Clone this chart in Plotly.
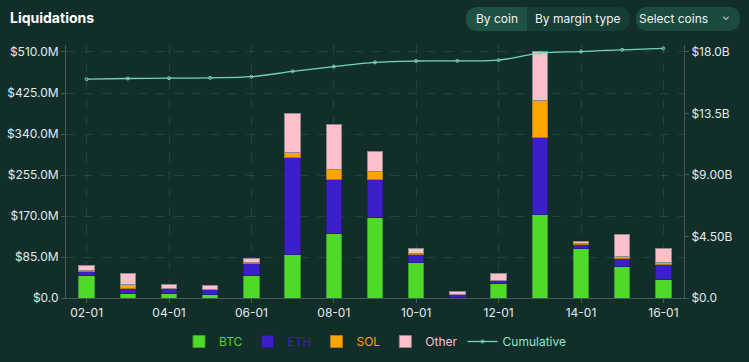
import plotly.graph_objects as go

# ---------------- data ----------------
dates = ["02-01", "03-01", "04-01", "05-01", "06-01", "07-01", "08-01", "09-01",
         "10-01", "11-01", "12-01", "13-01", "14-01", "15-01", "16-01"]
btc = [46, 9, 10, 7, 47, 90, 133, 167, 74, 1, 31, 173.5, 101.6, 66, 39]          # $M
eth = [9, 10, 9, 10, 25, 202, 112, 78, 16, 5.5, 5, 160, 10, 15, 31]              # $M
sol = [1, 10, 1, 0.5, 2, 9, 21.5, 17, 2, 0.3, 1, 76.7, 0.5, 5, 4]                 # $M
other = [11, 22, 7.6, 9, 8, 82, 92.5, 41, 11, 7.5, 13, 100, 5.6, 45, 27.6]        # $M
cumulative = [16.01, 16.06, 16.08, 16.11, 16.19, 16.58, 16.93, 17.24,
              17.34, 17.35, 17.40, 17.91, 18.03, 18.16, 18.26]                    # $B

x_tickvals = ["02-01", "04-01", "06-01", "08-01", "10-01", "12-01", "14-01", "16-01"]
left_tickvals = [0, 85, 170, 255, 340, 425, 510]
left_ticktext = ["$0.0", "$85.0M", "$170.0M", "$255.0M", "$340.0M", "$425.0M", "$510.0M"]
right_tickvals = [0, 4.5, 9, 13.5, 18]
right_ticktext = ["$0.0", "$4.50B", "$9.00B", "$13.5B", "$18.0B"]

# ---------------- style ----------------
W, H = 749, 362
L, R, T, B = 66, 65, 45, 64
BG = "#112e2a"
C_BTC, C_ETH, C_SOL, C_OTH, C_CUM = "#4fd929", "#3c1fc8", "#ffa500", "#ffc0cb", "#74d6b6"
GRID = "rgba(255,255,255,0.09)"
AXIS = "#4b5a56"
TXT = "#e4ebea"
FONT = "Inter"

fig = go.Figure()

def lbl(name, color):
    return f"<span style='color:{color}'>{name}</span>"

for vals, name, col, edge in [(btc, "BTC", C_BTC, "#3a9e22"),
                              (eth, "ETH", C_ETH, "#2d1a8a"),
                              (sol, "SOL", C_SOL, "#b7790a"),
                              (other, "Other", C_OTH, "#8c8a8a")]:
    fig.add_trace(go.Bar(x=dates, y=vals, name=lbl(name, col), marker_color=col,
                         marker_line=dict(color=edge, width=1), width=0.37))

fig.add_trace(go.Scatter(x=dates, y=cumulative, yaxis="y2", name=lbl("Cumulative", "#8fe6cf"),
                         mode="lines+markers", line=dict(color=C_CUM, width=1.3, shape="spline"),
                         marker=dict(symbol="circle-open", size=3, color=C_CUM)))

def px2x(px):
    return (px - L) / (W - L - R)

def px2y(py):
    return (H - B - py) / (H - T - B)

def rpath(x0, y0, x1, y1, r, left=True, right=True):
    P = lambda x, y: f"{px2x(x):.5f},{px2y(y):.5f}"
    rl = r if left else 0
    rr = r if right else 0
    return (f"M {P(x0 + rl, y0)} L {P(x1 - rr, y0)} Q {P(x1, y0)} {P(x1, y0 + rr)} "
            f"L {P(x1, y1 - rr)} Q {P(x1, y1)} {P(x1 - rr, y1)} L {P(x0 + rl, y1)} "
            f"Q {P(x0, y1)} {P(x0, y1 - rl)} L {P(x0, y0 + rl)} Q {P(x0, y0)} {P(x0 + rl, y0)} Z")

shapes = [
    dict(type="path", xref="paper", yref="paper", path=rpath(466, 7, 630, 31, 12),
         fillcolor="#163d36", line=dict(width=0)),
    dict(type="path", xref="paper", yref="paper", path=rpath(466, 7, 527, 31, 12, right=False),
         fillcolor="#1e5246", line=dict(width=0)),
    dict(type="path", xref="paper", yref="paper", path=rpath(636, 7, 740, 31, 12),
         fillcolor="#1b4a40", line=dict(width=0)),
]

annotations = [
    dict(text="<b>Liquidations</b>", x=px2x(8), y=px2y(18), xref="paper", yref="paper",
         xanchor="left", yanchor="middle", showarrow=False,
         font=dict(family=FONT, size=14, color="#ffffff")),
    dict(text="By coin", x=px2x(497), y=px2y(19), xref="paper", yref="paper",
         xanchor="center", yanchor="middle", showarrow=False,
         font=dict(family=FONT, size=12, color="#f0f4f3")),
    dict(text="By margin type", x=px2x(578), y=px2y(19), xref="paper", yref="paper",
         xanchor="center", yanchor="middle", showarrow=False,
         font=dict(family=FONT, size=12, color="#f0f4f3")),
    dict(text="Select coins", x=px2x(673), y=px2y(19), xref="paper", yref="paper",
         xanchor="center", yanchor="middle", showarrow=False,
         font=dict(family=FONT, size=12, color="#f0f4f3")),
    dict(text="⌄", x=px2x(726), y=px2y(16), xref="paper", yref="paper",
         xanchor="center", yanchor="middle", showarrow=False,
         font=dict(family=FONT, size=10, color="#f0f4f3")),
]

fig.update_layout(
    width=W, height=H,
    margin=dict(l=L, r=R, t=T, b=B, autoexpand=False),
    paper_bgcolor=BG, plot_bgcolor=BG,
    barmode="stack",
    font=dict(family=FONT, size=12, color=TXT),
    showlegend=True,
    legend=dict(orientation="h", x=0.5, xanchor="center", yref="container",
                y=1 - 327 / H, yanchor="top",
                font=dict(family=FONT, size=12), itemwidth=30, bgcolor="rgba(0,0,0,0)",
                traceorder="normal", tracegroupgap=0),
    xaxis=dict(type="category", tickmode="array", tickvals=x_tickvals,
               showgrid=True, gridcolor=GRID, griddash="dash",
               showline=True, linecolor=AXIS, linewidth=1,
               ticks="outside", ticklen=4, tickcolor=AXIS,
               tickfont=dict(size=12, color=TXT), range=[-0.5, len(dates) - 0.5]),
    yaxis=dict(range=[0, 524.5], tickmode="array", tickvals=left_tickvals, ticktext=left_ticktext,
               showgrid=True, gridcolor=GRID, griddash="dash", zeroline=False,
               showline=True, linecolor=AXIS, linewidth=1,
               ticks="outside", ticklen=4, tickcolor=AXIS,
               tickfont=dict(size=12, color=TXT)),
    yaxis2=dict(range=[0, 18.51], overlaying="y", side="right", tickmode="array",
                tickvals=right_tickvals, ticktext=right_ticktext,
                showgrid=False, zeroline=False,
                showline=True, linecolor=AXIS, linewidth=1,
                ticks="outside", ticklen=4, tickcolor=AXIS,
                tickfont=dict(size=12, color=TXT)),
    shapes=shapes,
    annotations=annotations,
)

fig.write_html("out.html", config={"displayModeBar": False},
               post_script="document.body.style.margin='0';")
